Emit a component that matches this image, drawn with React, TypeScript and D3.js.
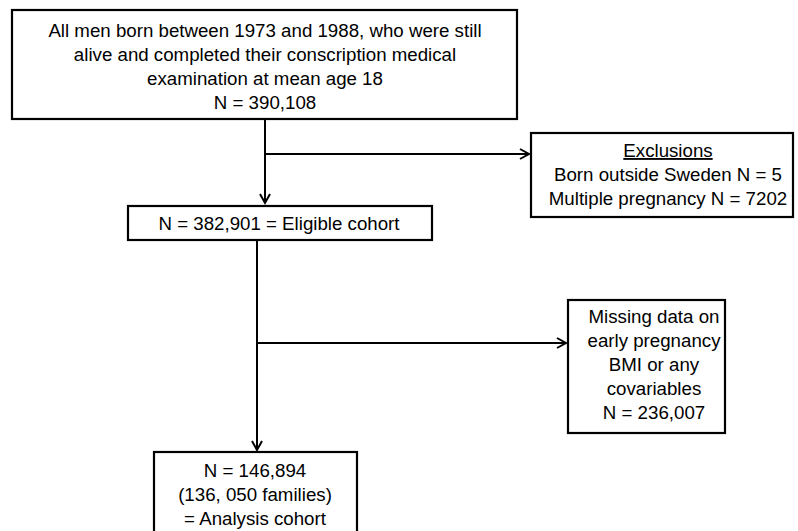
import React, { useEffect, useRef } from "react";
import * as d3 from "d3";

const topLines = [
  "All men born between 1973 and 1988, who were still",
  "alive and completed their conscription medical",
  "examination at mean age 18",
  "N = 390,108",
];
const eligibleLines = ["N = 382,901 = Eligible cohort"];
const exclusionTitle = "Exclusions";
const exclusionLines = ["Born outside Sweden N = 5", "Multiple pregnancy N = 7202"];
const missingLines = [
  "Missing data on",
  "early pregnancy",
  "BMI or any",
  "covariables",
  "N = 236,007",
];
const analysisLines = ["N = 146,894", "(136, 050 families)", "= Analysis cohort"];

const W = 798;
const H = 531;
const FONT = "'Liberation Sans', Arial, sans-serif";
const FS = 18.7;
const LH = 24;

export default function App() {
  const ref = useRef<SVGSVGElement | null>(null);

  useEffect(() => {
    const svg = d3.select(ref.current);
    svg.selectAll("*").remove();
    const g = svg.append("g");

    const box = (x0: number, y0: number, x1: number, y1: number) => {
      g.append("rect")
        .attr("x", x0)
        .attr("y", y0)
        .attr("width", x1 - x0)
        .attr("height", y1 - y0)
        .attr("fill", "#fff")
        .attr("stroke", "#000")
        .attr("stroke-width", 2.2);
    };

    const lines = (cx: number, firstBase: number, arr: string[], underlineFirst = false) => {
      arr.forEach((t, i) => {
        g.append("text")
          .attr("x", cx)
          .attr("y", firstBase + i * LH)
          .attr("text-anchor", "middle")
          .attr("font-family", FONT)
          .attr("font-size", FS)
          .attr("fill", "#000")
          .attr("text-decoration", underlineFirst && i === 0 ? "underline" : null)
          .text(t);
      });
    };

    const path = d3.line<[number, number]>();
    const seg = (pts: [number, number][]) => {
      g.append("path")
        .attr("d", path(pts))
        .attr("fill", "none")
        .attr("stroke", "#000")
        .attr("stroke-width", 2);
    };
    const headDown = (x: number, y: number) =>
      seg([
        [x - 5, y - 9],
        [x, y],
        [x + 5, y - 9],
      ]);
    const headRight = (x: number, y: number) =>
      seg([
        [x - 9, y - 5],
        [x, y],
        [x - 9, y + 5],
      ]);

    // connectors
    seg([[265, 119], [265, 203]]);
    headDown(265, 203);
    seg([[265, 154], [529, 154]]);
    headRight(529, 154);

    seg([[257, 240], [257, 450]]);
    headDown(257, 450);
    seg([[257, 343], [566, 343]]);
    headRight(566, 343);

    // boxes
    box(12, 10, 517, 119);
    lines(265, 37, topLines);

    box(128, 206, 432, 240);
    lines(279, 230, eligibleLines);

    box(531, 133, 793, 217);
    lines(668, 157, [exclusionTitle, ...exclusionLines], true);

    box(568, 300, 725, 433);
    lines(654, 323, missingLines);

    box(154, 452, 357, 540);
    lines(255, 477, analysisLines);
  }, []);

  return (
    <svg
      ref={ref}
      width={W}
      height={H}
      style={{ position: "absolute", left: 0, top: 0, background: "#fff" }}
    />
  );
}
